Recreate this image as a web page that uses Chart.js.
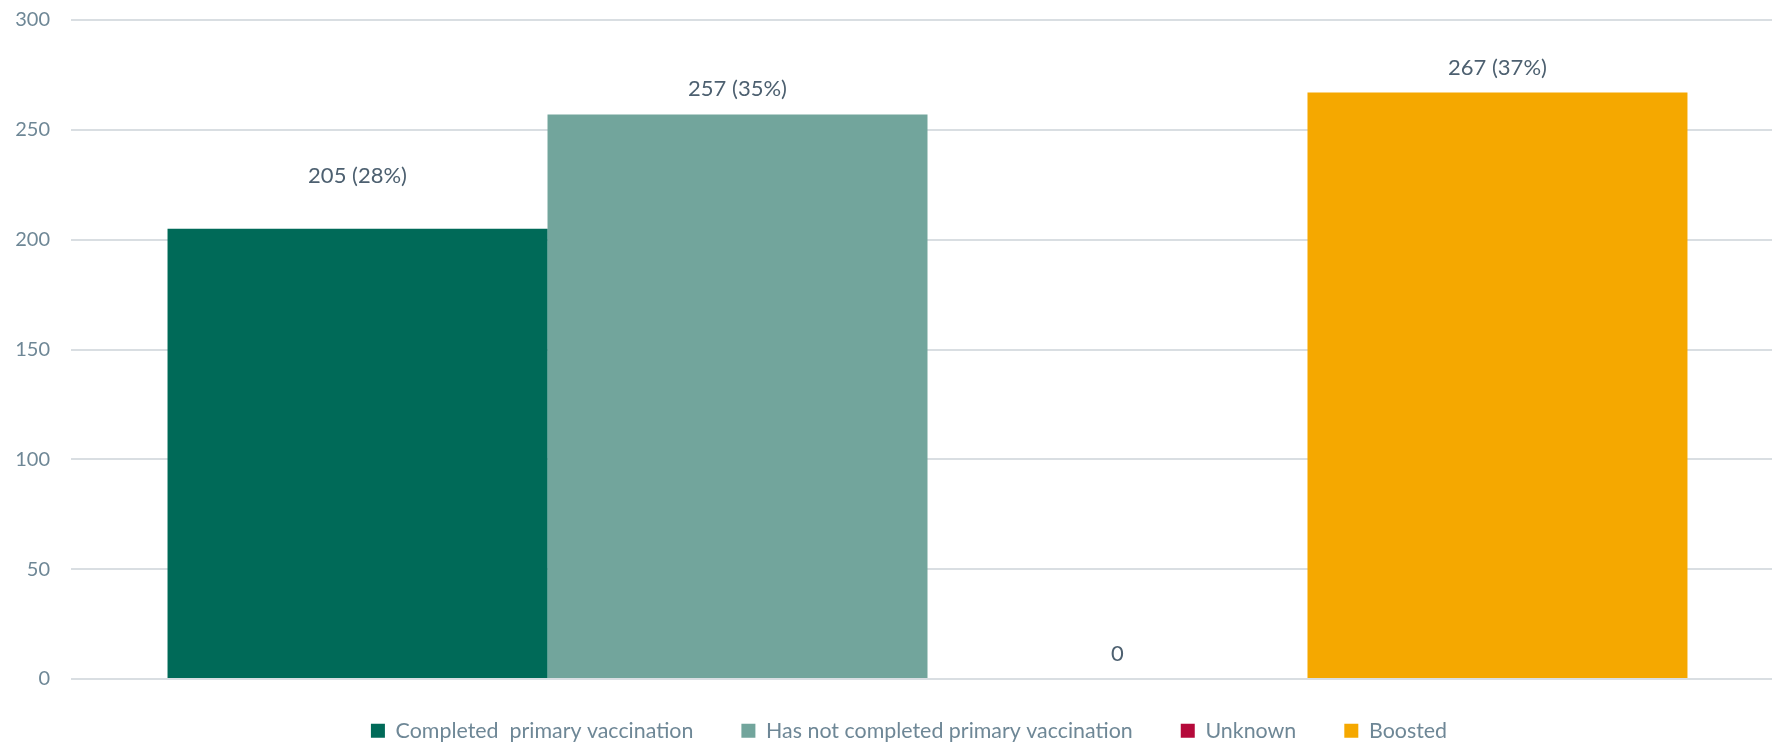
<!DOCTYPE html>
<html>
<head>
<meta charset="utf-8">
<script src="https://cdn.jsdelivr.net/npm/chart.js@4"></script>
<style>
  html, body { margin: 0; padding: 0; background: #fff; overflow: hidden; }
  #wrap { width: 1772px; height: 742px; overflow: hidden; }
</style>
</head>
<body>
<div id="wrap"><canvas id="vacc-chart" width="1784" height="742"></canvas></div>
<script>
// vaccination status counts
var categories = [''];
var seriesNames = ['Completed  primary vaccination', 'Has not completed primary vaccination', 'Unknown', 'Boosted'];
var completedData = [205];
var notCompletedData = [257];
var unknownData = [0];
var boostedData = [267];
var sharePercent = [28, 35, null, 37];
var yTicks = [0, 50, 100, 150, 200, 250, 300];

var labelColor = '#4d6070';

// writes "count (share%)" above each bar
var valueLabels = {
    id: 'valueLabels',
    afterDatasetsDraw: function (chart) {
        var ctx = chart.ctx;
        ctx.save();
        ctx.font = '22px Lato';
        ctx.fillStyle = labelColor;
        ctx.textAlign = 'center';
        ctx.textBaseline = 'middle';
        chart.data.datasets.forEach(function (ds, i) {
            var meta = chart.getDatasetMeta(i);
            meta.data.forEach(function (bar, j) {
                var v = ds.data[j];
                var txt = String(v);
                if (sharePercent[i] !== null) txt += ' (' + sharePercent[i] + '%)';
                ctx.fillText(txt, bar.x, bar.y - ds.labelOffset);
            });
        });
        ctx.restore();
    }
};

// small shift of the legend row after layout
var legendNudge = {
    id: 'legendNudge',
    afterLayout: function (chart) {
        var lg = chart.legend;
        lg.left += 17;
        lg.right += 17;
        lg.top -= 7;
        lg.bottom -= 7;
    }
};

var ctx = document.getElementById('vacc-chart').getContext('2d');
var myChart = new Chart(ctx, {
    type: 'bar',
    data: {
        labels: categories,
        datasets: [{
            label: seriesNames[0],
            backgroundColor: '#006a58',
            data: completedData,
            labelOffset: 53
        }, {
            label: seriesNames[1],
            backgroundColor: '#72a59c',
            data: notCompletedData,
            labelOffset: 26
        }, {
            label: seriesNames[2],
            backgroundColor: '#b5093a',
            data: unknownData,
            labelOffset: 25
        }, {
            label: seriesNames[3],
            backgroundColor: '#f5a800',
            data: boostedData,
            labelOffset: 25
        }]
    },
    options: {
        responsive: false,
        animation: false,
        layout: {
            padding: { top: 20, right: 0, left: 0, bottom: -16.4 }
        },
        datasets: {
            bar: { categoryPercentage: 0.8873, barPercentage: 1.0 }
        },
        scales: {
            x: { display: false },
            y: {
                min: 0,
                max: 300,
                afterBuildTicks: function (scale) {
                    scale.ticks = yTicks.map(function (v) { return { value: v }; });
                },
                afterFit: function (scale) {
                    scale.width = 71;
                    scale.paddingTop = 0;
                    scale.paddingBottom = 0;
                },
                border: { display: false },
                grid: { color: '#d9dee2', lineWidth: 2, drawTicks: false },
                ticks: {
                    padding: 21,
                    color: '#6e8796',
                    font: { family: 'Lato', size: 20 }
                }
            }
        },
        plugins: {
            legend: {
                display: true,
                position: 'bottom',
                labels: {
                    color: '#6e8796',
                    font: { family: 'Lato', size: 21.4 },
                    boxWidth: 14,
                    boxHeight: 14,
                    padding: 48
                }
            },
            tooltip: { enabled: false }
        }
    },
    plugins: [valueLabels, legendNudge]
});
</script>
</body>
</html>
